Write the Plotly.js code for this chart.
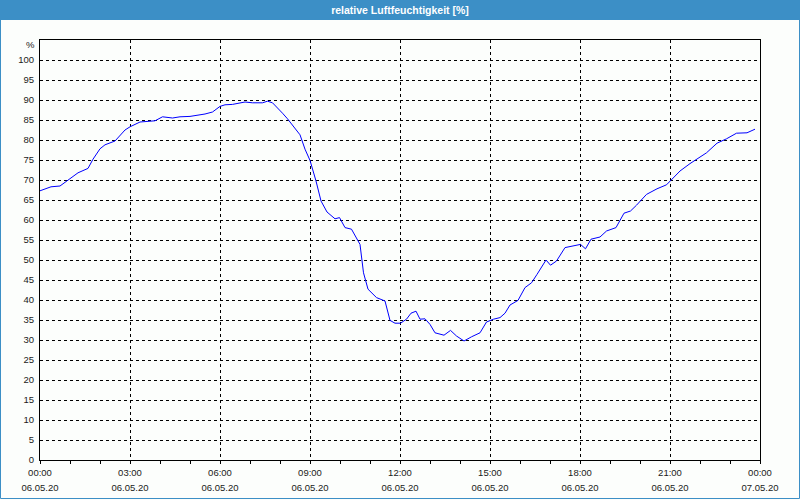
<!DOCTYPE html>
<html>
<head>
<meta charset="utf-8">
<script src="https://cdn.plot.ly/plotly-3.0.1.min.js"></script>
<style>html,body{margin:0;padding:0;background:#fcfefc;}#chart{width:800px;height:500px;}</style>
</head>
<body>
<div id="chart"></div>
<script>
const chartTitle = "relative Luftfeuchtigkeit [%]";
const day = "2020-05-06";
const times = ["00:00","00:22","00:40","00:48","01:02","01:16","01:36","01:46","02:00","02:10",
 "02:30","02:50","03:00","03:20","03:50","04:05","04:25","04:40","05:00","05:30",
 "05:45","06:00","06:10","06:25","06:50","07:05","07:25","07:35","07:45","07:55",
 "08:05","08:15","08:30","08:40","08:50","09:00","09:12","09:22","09:34","09:50",
 "09:59","10:10","10:23","10:40","10:47","10:56","11:13","11:30","11:40","11:50",
 "12:01","12:13","12:22","12:32","12:40","12:50","13:00","13:10","13:28","13:41",
 "13:53","14:08","14:23","14:40","14:53","15:07","15:20","15:30","15:40","15:56",
 "16:10","16:23","16:34","16:43","16:52","17:01","17:13","17:30","17:43","18:01",
 "18:11","18:22","18:40","18:53","19:12","19:28","19:41","19:53","20:13","20:34",
 "20:53","21:01","21:20","21:40","22:00","22:13","22:34","22:53","23:13","23:34","23:50"];
const humidity = [67.3,68.3,68.5,69.2,70.5,71.8,72.9,75.2,77.8,78.8,
 79.75,82.5,83.3,84.5,84.8,85.8,85.5,85.8,85.9,86.5,
 87.0,88.4,88.8,88.9,89.5,89.3,89.3,89.7,89.3,88.1,
 86.7,85.3,82.8,81.3,77.7,74.9,69.75,64.75,62.0,60.3,
 60.6,58.1,57.7,53.9,46.8,42.7,40.6,39.75,34.9,34.2,
 34.2,35.2,36.7,37.2,35.2,35.3,33.9,31.8,31.2,32.4,
 31.0,29.75,30.8,31.8,34.5,35.2,35.6,36.7,38.75,39.9,
 43.1,44.3,46.4,48.1,50.0,48.7,49.75,53.1,53.5,53.9,
 52.8,55.2,55.75,57.25,58.1,61.7,62.25,63.7,66.4,67.8,
 68.8,69.75,72.25,74.1,75.75,76.8,79.2,80.3,81.7,81.8,82.7];
const tickDates = ["2020-05-06 00:00","2020-05-06 03:00","2020-05-06 06:00","2020-05-06 09:00",
 "2020-05-06 12:00","2020-05-06 15:00","2020-05-06 18:00","2020-05-06 21:00","2020-05-07 00:00"];
const tickTimes = ["00:00","03:00","06:00","09:00","12:00","15:00","18:00","21:00","00:00"];
const tickDays = ["06.05.20","06.05.20","06.05.20","06.05.20","06.05.20","06.05.20","06.05.20","06.05.20","07.05.20"];
const yTicks = [0,5,10,15,20,25,30,35,40,45,50,55,60,65,70,75,80,85,90,95,100];
const yUnit = "%";

const xs = times.map(t => day + " " + t);
const xRange = [tickDates[0], tickDates[tickDates.length-1]];
const font = {family: "Liberation Sans, Arial, sans-serif", size: 9.5, color: "#1a1a1a"};
const blue = "#3c8fc6";
const bg = "#fcfefc";

const data = [{
  x: xs, y: humidity, type: "scatter", mode: "lines",
  line: {color: "#0000ff", width: 1}, hoverinfo: "skip", showlegend: false
}];

const layout = {
  width: 800, height: 500,
  margin: {l: 40, r: 40, t: 40, b: 40, pad: 0},
  paper_bgcolor: bg, plot_bgcolor: bg,
  font: font,
  showlegend: false,
  title: {text: "<b>" + chartTitle + "</b>", x: 0.5, xref: "container", y: 0.98, yref: "container",
          xanchor: "center", yanchor: "middle",
          font: {family: "Liberation Sans, Arial, sans-serif", size: 10.5, color: "#ffffff"}},
  xaxis: {
    type: "date", range: xRange,
    tickmode: "array", tickvals: tickDates, ticktext: tickTimes,
    ticks: "outside", ticklen: 3, tickwidth: 1, tickcolor: "#000",
    minor: {ticks: "outside", dtick: 3600000, ticklen: 3, tickcolor: "#000", showgrid: false},
    showgrid: true, gridcolor: "#000", gridwidth: 1, griddash: "3px,3px",
    showline: true, linecolor: "#000", linewidth: 1, mirror: true,
    zeroline: false, tickfont: font, ticklabelstandoff: 1, fixedrange: true
  },
  xaxis2: {
    type: "date", range: xRange, overlaying: "x", side: "bottom", anchor: "y",
    tickmode: "array", tickvals: tickDates, ticktext: tickDays,
    ticks: "", showgrid: false, showline: false, zeroline: false,
    ticklabelstandoff: 20, tickfont: font, fixedrange: true
  },
  yaxis: {
    range: [0, 105], tickmode: "array", tickvals: yTicks,
    ticks: "", showgrid: true, gridcolor: "#000", gridwidth: 1, griddash: "3px,3px",
    showline: true, linecolor: "#000", linewidth: 1, mirror: true,
    zeroline: false, tickfont: font, ticklabelstandoff: 3, fixedrange: true
  },
  shapes: [
    {type: "rect", xref: "paper", yref: "paper", x0: -40/720, x1: 760/720,
     y0: 1 + 20/420, y1: 1 + 40/420, fillcolor: blue, line: {width: 0}, layer: "below"},
    {type: "rect", xref: "paper", yref: "paper", x0: -39.5/720, x1: 759.5/720,
     y0: -38.5/420, y1: 1 + 40/420, fillcolor: "rgba(0,0,0,0)", line: {color: blue, width: 1}, layer: "below"}
  ],
  annotations: [
    {text: yUnit, xref: "paper", yref: "y", x: 0, y: 104, xanchor: "right", yanchor: "middle",
     xshift: -3, showarrow: false, font: font}
  ]
};

// invisible companion trace so the date row axis (xaxis2) is built from the same data
data.push({x: xs, y: humidity, xaxis: "x2", type: "scatter", mode: "lines",
  line: {color: "rgba(0,0,0,0)", width: 0}, hoverinfo: "skip", showlegend: false});

Plotly.newPlot("chart", data, layout, {displayModeBar: false, staticPlot: true});
</script>
</body>
</html>
